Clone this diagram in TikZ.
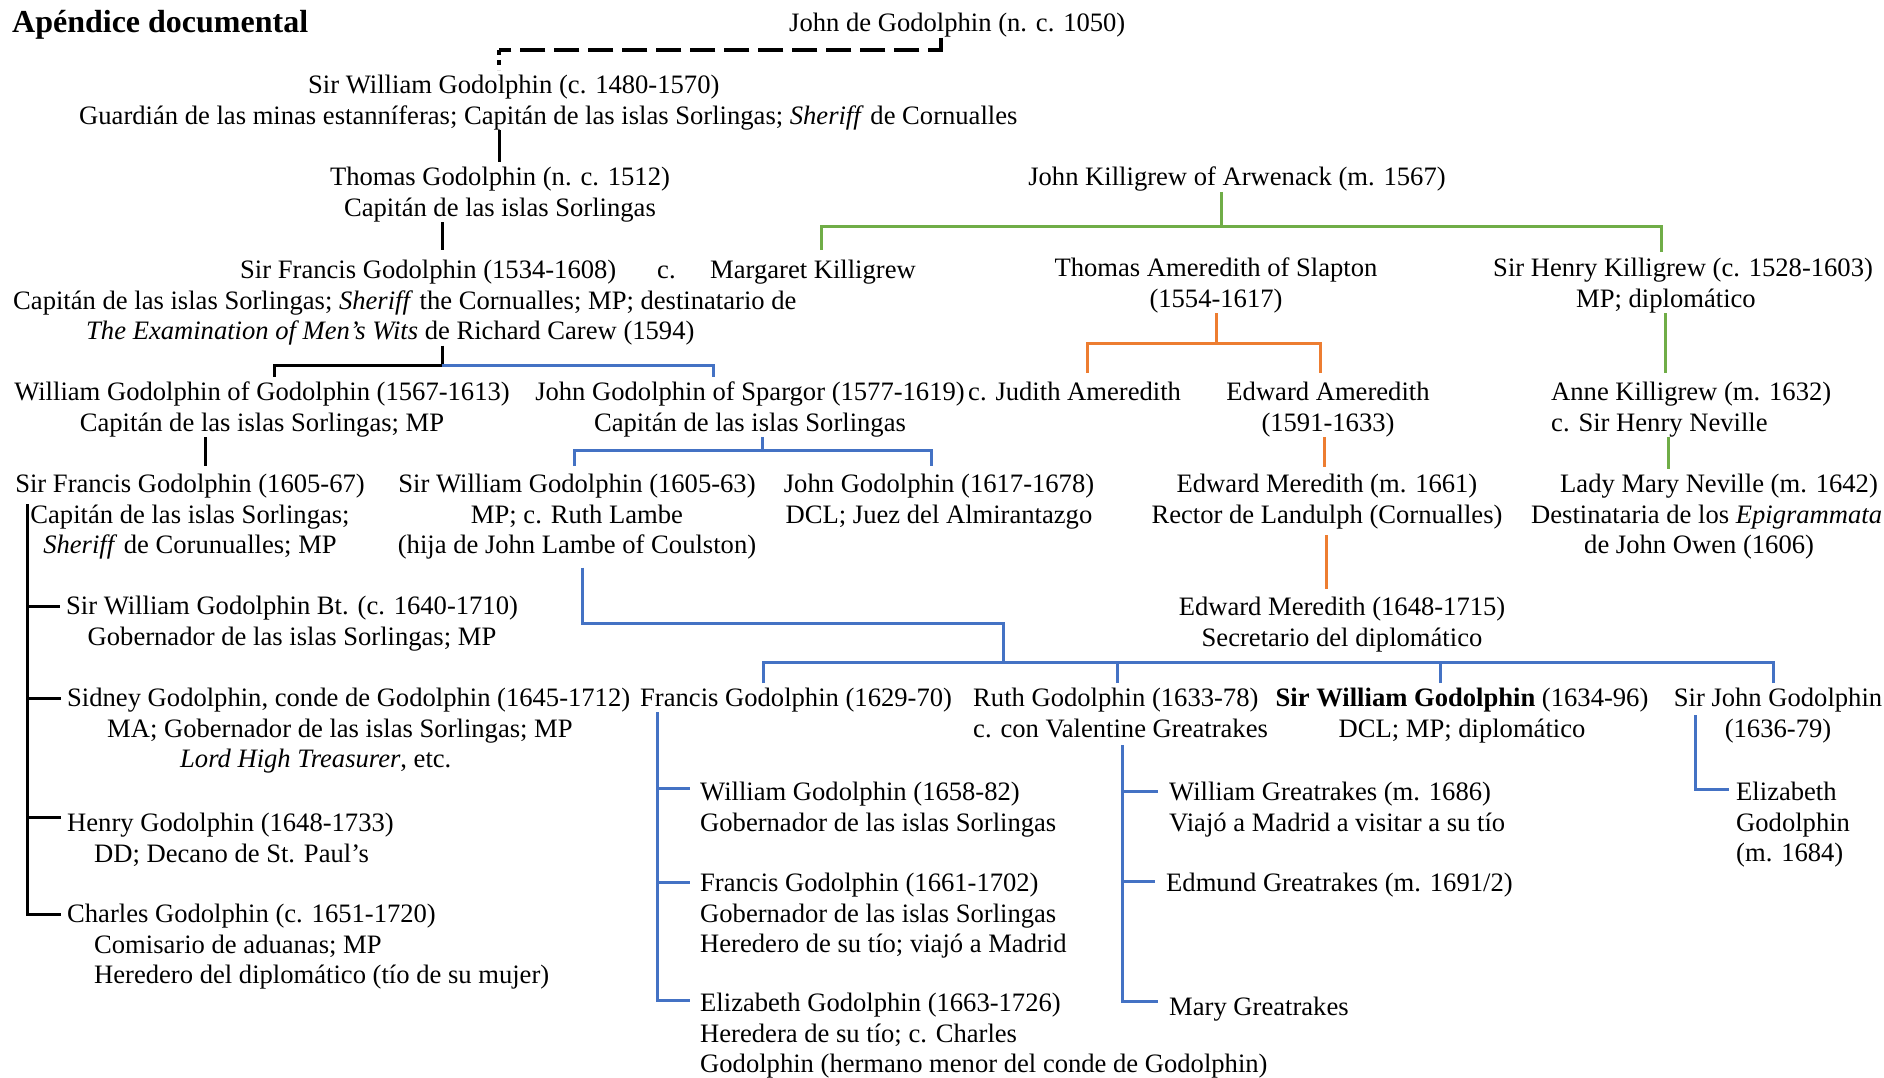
\documentclass[tikz,border=0pt]{standalone}
\usepackage{fontspec}
\setmainfont{Liberation Serif}
\definecolor{gblue}{HTML}{4472C4}
\definecolor{ggreen}{HTML}{70AD47}
\definecolor{gorange}{HTML}{ED7D31}
\begin{document}
\begin{tikzpicture}[x=1pt,y=-1pt,
	font=\fontsize{26.6}{30.6}\selectfont,
	nm/.style={inner sep=0pt,align=center,anchor=north},
	nml/.style={inner sep=0pt,align=left,anchor=north west},
	blk/.style={line width=3pt,black},
	blu/.style={line width=3pt,gblue},
	grn/.style={line width=3pt,ggreen},
	org/.style={line width=3pt,gorange},
	dsh/.style={line width=4pt,black,dash pattern=on 25pt off 9pt},
	dshf/.style={line width=4pt,black,dash pattern=on 5pt off 5pt}]
	
	\useasboundingbox (0,0) rectangle (1884,1078);
	
	\node[nml,font=\fontsize{32}{38}\selectfont\bfseries] (title) at (12,10) {Apéndice documental};
	
	\node[nml] (jdg) at (789,13) {John de Godolphin (n. c. 1050)};
	\node[nml] (swg80) at (79,75) {\hspace*{229pt}Sir William Godolphin (c. 1480-1570)\\Guardián de las minas estanníferas; Capitán de las islas Sorlingas; \textit{Sheriff} de Cornualles};
	\node[nm] (thom) at (500,167) {Thomas Godolphin (n. c. 1512)\\Capitán de las islas Sorlingas};
	\node[nm] (jkil) at (1237,167) {John Killigrew of Arwenack (m. 1567)};
	
	\node[nml] (sfg34) at (13,260) {\hspace*{227pt}Sir Francis Godolphin (1534-1608)\\Capitán de las islas Sorlingas; \textit{Sheriff} the Cornualles; MP; destinatario de\\\hspace*{73pt}\textit{The Examination of Men’s Wits} de Richard Carew (1594)};
	\node[nml] (cmarg) at (657,266) {c.};
	\node[nml] (mkil) at (710,260) {Margaret Killigrew};
	\node[nm] (tame) at (1216,258) {Thomas Ameredith of Slapton\\(1554-1617)};
	\node[nml] (hkil) at (1493,258) {Sir Henry Killigrew (c. 1528-1603)\\\hspace*{83pt}MP; diplomático};
	
	\node[nm] (wgg) at (262,382) {William Godolphin of Godolphin (1567-1613)\\Capitán de las islas Sorlingas; MP};
	\node[nm] (jgs) at (750,382) {John Godolphin of Spargor (1577-1619)\\Capitán de las islas Sorlingas};
	\node[nml] (jud) at (968,382) {c. Judith Ameredith};
	\node[nm] (eame) at (1328,382) {Edward Ameredith\\(1591-1633)};
	\node[nml] (akil) at (1551,382) {Anne Killigrew (m. 1632)\\c. Sir Henry Neville};
	
	\node[nm] (sfg05) at (190,474) {Sir Francis Godolphin (1605-67)\\Capitán de las islas Sorlingas;\\\textit{Sheriff} de Corunualles; MP};
	\node[nm] (swg05) at (577,474) {Sir William Godolphin (1605-63)\\MP; c. Ruth Lambe\\(hija de John Lambe of Coulston)};
	\node[nm] (jg17) at (939,474) {John Godolphin (1617-1678)\\DCL; Juez del Almirantazgo};
	\node[nm] (emer61) at (1327,474) {Edward Meredith (m. 1661)\\Rector de Landulph (Cornualles)};
	\node[nml] (lmn) at (1531,474) {\hspace*{29pt}Lady Mary Neville (m. 1642)\\Destinataria de los \textit{Epigrammata}\\\hspace*{53pt}de John Owen (1606)};
	
	\node[nm] (swbt) at (292,596) {Sir William Godolphin Bt. (c. 1640-1710)\\Gobernador de las islas Sorlingas; MP};
	\node[nm] (emer48) at (1342,597) {Edward Meredith (1648-1715)\\Secretario del diplomático};
	
	\node[nml] (sid) at (67,688) {Sidney Godolphin, conde de Godolphin (1645-1712)\\\hspace*{40pt}MA; Gobernador de las islas Sorlingas; MP\\\hspace*{113pt}\textit{Lord High Treasurer}, etc.};
	\node[nml] (fg29) at (640,688) {Francis Godolphin (1629-70)};
	\node[nml] (ruth) at (973,688) {Ruth Godolphin (1633-78)\\c. con Valentine Greatrakes};
	\node[nm] (swg34) at (1462,688) {\textbf{Sir William Godolphin} (1634-96)\\DCL; MP; diplomático};
	\node[nm] (sjg) at (1778,688) {Sir John Godolphin\\(1636-79)};
	
	\node[nml] (hg) at (67,813) {Henry Godolphin (1648-1733)\\\hspace*{27pt}DD; Decano de St. Paul’s};
	\node[nml] (cg) at (67,904) {Charles Godolphin (c. 1651-1720)\\\hspace*{27pt}Comisario de aduanas; MP\\\hspace*{27pt}Heredero del diplomático (tío de su mujer)};
	
	\node[nml] (wg58) at (700,782) {William Godolphin (1658-82)\\Gobernador de las islas Sorlingas};
	\node[nml] (fg61) at (700,873) {Francis Godolphin (1661-1702)\\Gobernador de las islas Sorlingas\\Heredero de su tío; viajó a Madrid};
	\node[nml] (eg63) at (700,993) {Elizabeth Godolphin (1663-1726)\\Heredera de su tío; c. Charles\\Godolphin (hermano menor del conde de Godolphin)};
	
	\node[nml] (wgr) at (1169,782) {William Greatrakes (m. 1686)\\Viajó a Madrid a visitar a su tío};
	\node[nml] (egr) at (1166,873) {Edmund Greatrakes (m. 1691/2)};
	\node[nml] (mgr) at (1169,997) {Mary Greatrakes};
	\node[nml] (eg84) at (1736,782) {Elizabeth\\Godolphin\\(m. 1684)};
	
	\coordinate (cJohn) at (941,50);
	\coordinate (cWil) at (499,50);
	\coordinate (cFra) at (442,365);
	\coordinate (cKil) at (1221,226);
	\coordinate (cAme) at (1216,343);
	\coordinate (cSpa) at (762,450);
	\coordinate (cLk) at (1003,623);
	\coordinate (cRow) at (1003,662);
	\coordinate (xWg) at (205,0);
	\coordinate (xEa) at (1324,0);
	\coordinate (xEm) at (1326.5,0);
	\coordinate (xHa) at (1665,0);
	\coordinate (xAl) at (1668.5,0);
	
	\draw[dsh] (cJohn |- jdg.south) -- (cJohn) -- (cWil);
	\draw[dshf,shorten >=5pt] (cWil) -- (cWil |- swg80.north);
	\draw[blk,shorten >=5pt] (cWil |- swg80.south) -- (cWil |- thom.north);
	\draw[blk,shorten >=10pt] (cFra |- thom.south) -- (cFra |- sfg34.north);
	\draw[blk] (cFra |- sfg34.south) -- (cFra) -| ([xshift=12pt,yshift=5pt]wgg.north);
	\draw[blu] (cFra) -| ([xshift=-37pt,yshift=5pt]jgs.north);
	
	\draw[grn] (cKil |- jkil.south) -- (cKil);
	\draw[grn] ([xshift=8pt,yshift=10pt]mkil.north) |- (cKil) -| ([xshift=168pt,yshift=6pt]hkil.north west);
	\draw[grn,shorten >=9pt] (xHa |- hkil.south) -- (xHa |- akil.north);
	\draw[grn,shorten >=5pt] (xAl |- akil.south) -- (xAl |- lmn.north);
	
	\draw[org] (cAme |- tame.south) -- (cAme);
	\draw[org] ([xshift=13pt,yshift=9pt]jud.north) |- (cAme) -| ([xshift=-8pt,yshift=9pt]eame.north);
	\draw[org,shorten >=7pt] (xEa |- eame.south) -- (xEa |- emer61.north);
	\draw[org,shorten <=6pt,shorten >=8pt] (xEm |- emer61.south) -- (xEm |- emer48.north);
	
	\draw[blu] (cSpa |- jgs.south) -- (cSpa);
	\draw[blu] ([xshift=-3pt,yshift=8pt]swg05.north) |- (cSpa) -| ([xshift=-8pt,yshift=8pt]jg17.north);
	\draw[blk,shorten >=8pt] (xWg |- wgg.south) -- (xWg |- sfg05.north);
	
	\foreach \n/\dy in {swbt/10,sid/10,hg/4,cg/10}
		\draw[blk] ([xshift=-163pt,yshift=-30pt]sfg05.north) |- ([xshift=-6pt,yshift=-\dy pt]\n.north west);
	
	\draw[blu] ([xshift=5pt,yshift=-8pt]swg05.south) |- (cLk) -- (cRow);
	\foreach \n/\dx in {fg29/-33,ruth/-3,swg34/-22,sjg/-5}
		\draw[blu] ([xshift=\dx pt,yshift=5pt]\n.north) |- (cRow);
	
	\foreach \n/\dy in {wg58/6,fg61/9,eg63/7}
		\draw[blu] ([xshift=17pt,yshift=-24pt]fg29.north west) |- ([xshift=-10pt,yshift=-\dy pt]\n.north west);
	\foreach \n/\dy in {wgr/9,egr/8,mgr/4}
		\draw[blu] ([xshift=149pt,yshift=-57pt]ruth.north west) |- ([xshift=-11pt,yshift=-\dy pt]\n.north west);
	\draw[blu] ([xshift=-83pt,yshift=-27pt]sjg.north) |- ([xshift=-7pt,yshift=-7pt]eg84.north west);
\end{tikzpicture}
\end{document}
